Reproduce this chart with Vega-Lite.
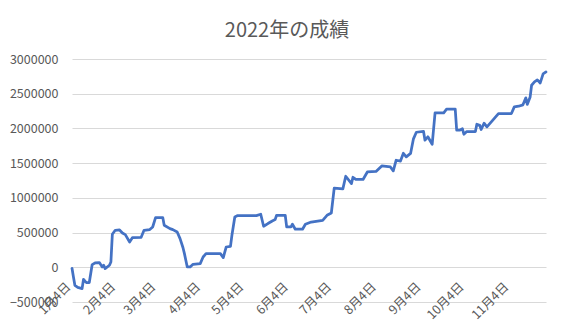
{
  "$schema": "https://vega.github.io/schema/vega-lite/v6.json",
  "autosize": {"type": "none"},
  "padding": {"left": 72, "top": 59, "right": 28, "bottom": 29},
  "width": 474,
  "height": 243,
  "background": "white",
  "config": {
    "view": {"stroke": null},
    "font": "Noto Sans CJK JP"
  },
  "title": {
    "text": "2022年の成績",
    "fontSize": 20,
    "fontWeight": "normal",
    "color": "#595959",
    "font": "Noto Sans CJK JP",
    "anchor": "middle",
    "dx": -22,
    "baseline": "alphabetic",
    "offset": -4
  },
  "data": {
    "values": [
      {"date": "2022-01-04", "value": -15000},
      {"date": "2022-01-05", "value": -140000},
      {"date": "2022-01-06", "value": -260000},
      {"date": "2022-01-08", "value": -290000},
      {"date": "2022-01-11", "value": -307000},
      {"date": "2022-01-12", "value": -173000},
      {"date": "2022-01-13", "value": -200000},
      {"date": "2022-01-14", "value": -220000},
      {"date": "2022-01-16", "value": -220000},
      {"date": "2022-01-18", "value": 39000},
      {"date": "2022-01-20", "value": 62000},
      {"date": "2022-01-23", "value": 68000},
      {"date": "2022-01-25", "value": 5000},
      {"date": "2022-01-26", "value": 29000},
      {"date": "2022-01-27", "value": -19000},
      {"date": "2022-01-30", "value": 29000},
      {"date": "2022-01-31", "value": 76000},
      {"date": "2022-02-01", "value": 475000},
      {"date": "2022-02-03", "value": 533000},
      {"date": "2022-02-06", "value": 538000},
      {"date": "2022-02-08", "value": 494000},
      {"date": "2022-02-10", "value": 471000},
      {"date": "2022-02-13", "value": 365000},
      {"date": "2022-02-15", "value": 428000},
      {"date": "2022-02-21", "value": 432000},
      {"date": "2022-02-23", "value": 533000},
      {"date": "2022-02-27", "value": 543000},
      {"date": "2022-03-01", "value": 580000},
      {"date": "2022-03-03", "value": 716000},
      {"date": "2022-03-08", "value": 716000},
      {"date": "2022-03-09", "value": 605000},
      {"date": "2022-03-13", "value": 557000},
      {"date": "2022-03-15", "value": 543000},
      {"date": "2022-03-18", "value": 509000},
      {"date": "2022-03-20", "value": 413000},
      {"date": "2022-03-22", "value": 285000},
      {"date": "2022-03-23", "value": 200000},
      {"date": "2022-03-25", "value": 5000},
      {"date": "2022-03-27", "value": 5000},
      {"date": "2022-03-29", "value": 43000},
      {"date": "2022-04-03", "value": 53000},
      {"date": "2022-04-05", "value": 148000},
      {"date": "2022-04-07", "value": 197000},
      {"date": "2022-04-17", "value": 197000},
      {"date": "2022-04-19", "value": 140000},
      {"date": "2022-04-21", "value": 292000},
      {"date": "2022-04-24", "value": 302000},
      {"date": "2022-04-25", "value": 461000},
      {"date": "2022-04-27", "value": 725000},
      {"date": "2022-04-29", "value": 745000},
      {"date": "2022-05-12", "value": 745000},
      {"date": "2022-05-15", "value": 764000},
      {"date": "2022-05-17", "value": 591000},
      {"date": "2022-05-20", "value": 630000},
      {"date": "2022-05-23", "value": 667000},
      {"date": "2022-05-25", "value": 687000},
      {"date": "2022-05-26", "value": 749000},
      {"date": "2022-06-01", "value": 749000},
      {"date": "2022-06-02", "value": 581000},
      {"date": "2022-06-05", "value": 581000},
      {"date": "2022-06-06", "value": 620000},
      {"date": "2022-06-08", "value": 548000},
      {"date": "2022-06-13", "value": 548000},
      {"date": "2022-06-15", "value": 620000},
      {"date": "2022-06-19", "value": 652000},
      {"date": "2022-06-27", "value": 677000},
      {"date": "2022-06-30", "value": 749000},
      {"date": "2022-07-03", "value": 782000},
      {"date": "2022-07-05", "value": 1140000},
      {"date": "2022-07-11", "value": 1130000},
      {"date": "2022-07-13", "value": 1311000},
      {"date": "2022-07-17", "value": 1206000},
      {"date": "2022-07-18", "value": 1297000},
      {"date": "2022-07-20", "value": 1265000},
      {"date": "2022-07-25", "value": 1265000},
      {"date": "2022-07-28", "value": 1373000},
      {"date": "2022-08-03", "value": 1380000},
      {"date": "2022-08-07", "value": 1460000},
      {"date": "2022-08-13", "value": 1445000},
      {"date": "2022-08-15", "value": 1388000},
      {"date": "2022-08-17", "value": 1542000},
      {"date": "2022-08-20", "value": 1530000},
      {"date": "2022-08-22", "value": 1642000},
      {"date": "2022-08-24", "value": 1590000},
      {"date": "2022-08-27", "value": 1640000},
      {"date": "2022-08-29", "value": 1850000},
      {"date": "2022-08-31", "value": 1945000},
      {"date": "2022-09-05", "value": 1957000},
      {"date": "2022-09-06", "value": 1830000},
      {"date": "2022-09-08", "value": 1880000},
      {"date": "2022-09-11", "value": 1772000},
      {"date": "2022-09-13", "value": 2223000},
      {"date": "2022-09-19", "value": 2223000},
      {"date": "2022-09-21", "value": 2277000},
      {"date": "2022-09-27", "value": 2277000},
      {"date": "2022-09-28", "value": 1974000},
      {"date": "2022-09-30", "value": 1974000},
      {"date": "2022-10-02", "value": 1995000},
      {"date": "2022-10-03", "value": 1916000},
      {"date": "2022-10-05", "value": 1955000},
      {"date": "2022-10-11", "value": 1955000},
      {"date": "2022-10-12", "value": 2060000},
      {"date": "2022-10-14", "value": 2045000},
      {"date": "2022-10-15", "value": 1985000},
      {"date": "2022-10-17", "value": 2075000},
      {"date": "2022-10-19", "value": 2022000},
      {"date": "2022-10-24", "value": 2142000},
      {"date": "2022-10-27", "value": 2214000},
      {"date": "2022-11-05", "value": 2214000},
      {"date": "2022-11-07", "value": 2310000},
      {"date": "2022-11-10", "value": 2320000},
      {"date": "2022-11-13", "value": 2340000},
      {"date": "2022-11-15", "value": 2440000},
      {"date": "2022-11-16", "value": 2345000},
      {"date": "2022-11-18", "value": 2454000},
      {"date": "2022-11-19", "value": 2622000},
      {"date": "2022-11-21", "value": 2670000},
      {"date": "2022-11-23", "value": 2700000},
      {"date": "2022-11-25", "value": 2655000},
      {"date": "2022-11-27", "value": 2785000},
      {"date": "2022-11-29", "value": 2814000}
    ]
  },
  "mark": {"type": "line", "color": "#4472C4", "strokeWidth": 2.75, "strokeJoin": "round", "strokeCap": "round"},
  "encoding": {
    "x": {
      "field": "date",
      "type": "temporal",
      "scale": {
        "type": "utc",
        "domain": [
          {"year": 2022, "month": 1, "date": 4, "utc": true},
          {"year": 2022, "month": 11, "date": 29, "utc": true}
        ]
      },
      "axis": {
        "title": null,
        "values": [
          {"year": 2022, "month": 1, "date": 4, "utc": true},
          {"year": 2022, "month": 2, "date": 4, "utc": true},
          {"year": 2022, "month": 3, "date": 4, "utc": true},
          {"year": 2022, "month": 4, "date": 4, "utc": true},
          {"year": 2022, "month": 5, "date": 4, "utc": true},
          {"year": 2022, "month": 6, "date": 4, "utc": true},
          {"year": 2022, "month": 7, "date": 4, "utc": true},
          {"year": 2022, "month": 8, "date": 4, "utc": true},
          {"year": 2022, "month": 9, "date": 4, "utc": true},
          {"year": 2022, "month": 10, "date": 4, "utc": true},
          {"year": 2022, "month": 11, "date": 4, "utc": true}
        ],
        "labelExpr": "utcFormat(datum.value, '%-m月%-d日')",
        "grid": false,
        "domain": false,
        "ticks": false,
        "offset": -34.71,
        "labelAngle": -45,
        "labelAlign": "right",
        "labelBaseline": "bottom",
        "labelPadding": 22,
        "labelOffset": 1,
        "labelFontSize": 12.5,
        "labelColor": "#595959",
        "labelFlush": false,
        "labelOverlap": false,
        "labelBound": false,
        "labelFont": "Noto Sans CJK JP"
      }
    },
    "y": {
      "field": "value",
      "type": "quantitative",
      "scale": {"domain": [-500000, 3000000], "nice": false, "zero": false},
      "axis": {
        "title": null,
        "values": [-500000, 0, 500000, 1000000, 1500000, 2000000, 2500000, 3000000],
        "format": "d",
        "domain": false,
        "ticks": false,
        "labelPadding": 14,
        "labelFontSize": 12.5,
        "labelColor": "#595959",
        "gridColor": "#d9d9d9",
        "gridWidth": 1,
        "labelFont": "Noto Sans CJK JP"
      }
    }
  }
}
